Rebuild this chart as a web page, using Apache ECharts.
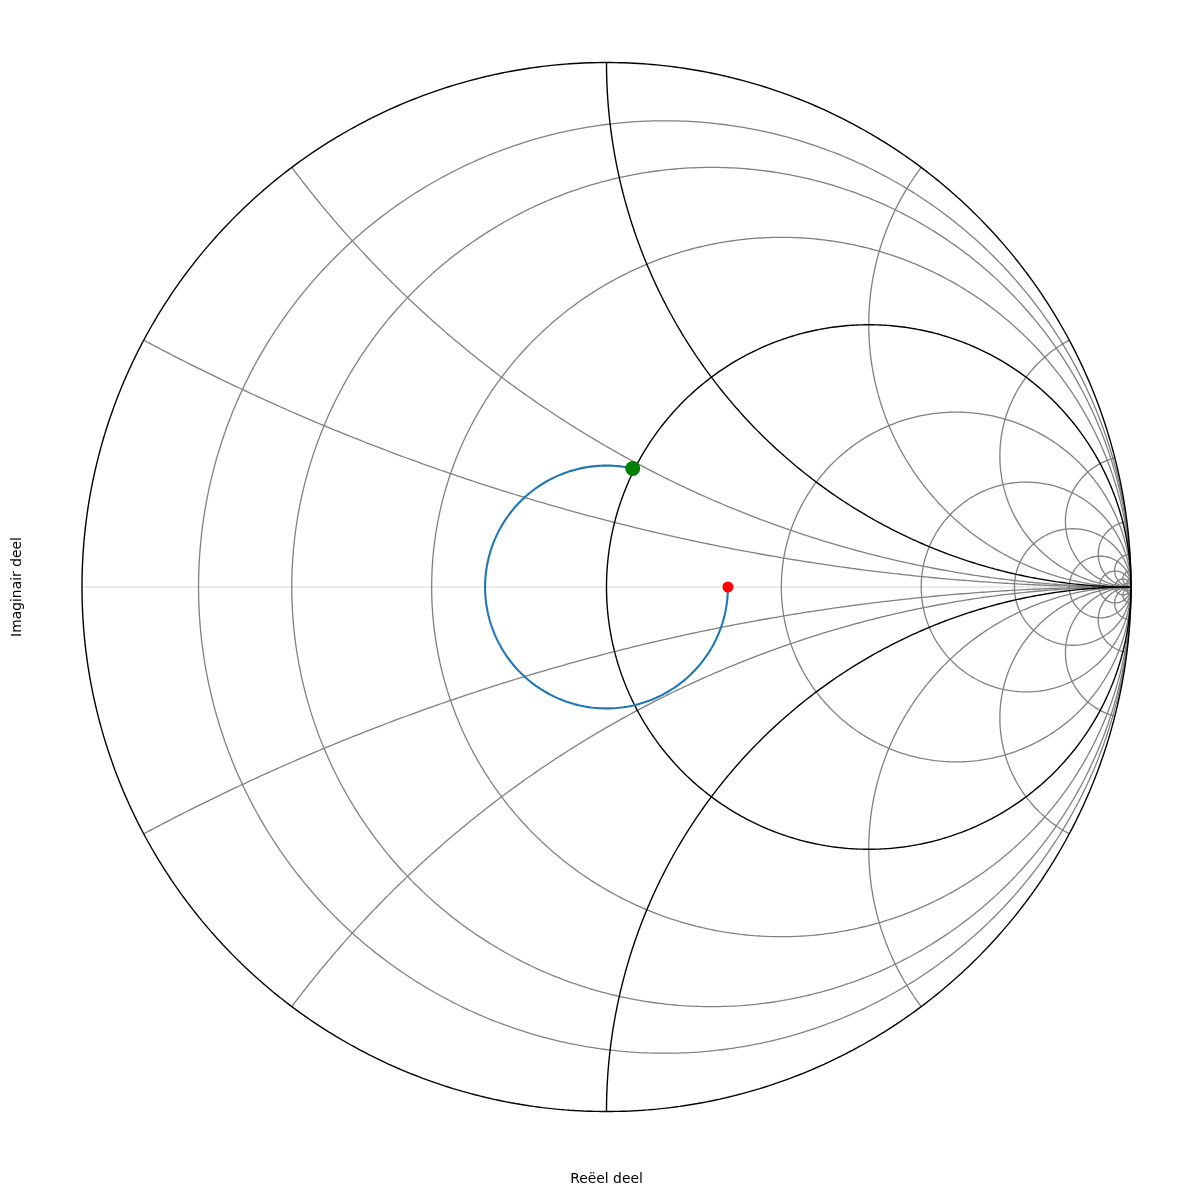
<!DOCTYPE html>
<html>
<head>
<meta charset="utf-8">
<script src="https://cdn.jsdelivr.net/npm/echarts@6/dist/echarts.min.js"></script>
<style>
html,body{margin:0;padding:0;background:#fff;}
#chart{width:1194px;height:1194px;}
</style>
</head>
<body>
<div id="chart"></div>
<script>
// Smith chart grid values (normalized impedance)
const resistanceValues = [0.125, 0.25, 0.5, 2, 4, 8, 16, 32, 64, 128];
const reactanceValues = [0.25, 0.5, 2, 4, 8, 16, 32, 64, 128];
const majorResistance = [0, 1];
const majorReactance = [1];
// Reflection-coefficient points (real, imaginary)
const loadPoint = [0.2315, 0];
const matchPoint = [0.050, 0.226];
// Axis titles
const xAxisTitle = 'Reëel deel';
const yAxisTitle = 'Imaginair deel';

const N = 720;
function resistanceCircle(r) {
  const cx = r / (1 + r), R = 1 / (1 + r);
  const pts = [];
  for (let i = 0; i <= N; i++) {
    const a = 2 * Math.PI * i / N;
    pts.push([cx + R * Math.cos(a), R * Math.sin(a)]);
  }
  return pts;
}
function reactanceArc(x) {
  const cx = 1, cy = 1 / x, R = 1 / Math.abs(x);
  const px = (x * x - 1) / (x * x + 1), py = 2 * x / (x * x + 1);
  const a0 = Math.atan2(0 - cy, 1 - cx);
  let a1 = Math.atan2(py - cy, px - cx);
  if (x > 0) { while (a1 > a0) a1 -= 2 * Math.PI; }
  else { while (a1 < a0) a1 += 2 * Math.PI; }
  const pts = [];
  for (let i = 0; i <= N; i++) {
    const a = a0 + (a1 - a0) * i / N;
    pts.push([cx + R * Math.cos(a), cy + R * Math.sin(a)]);
  }
  return pts;
}
function pathArc(p0, p1) {
  const mag = Math.hypot(p0[0], p0[1]);
  const a0 = Math.atan2(p0[1], p0[0]);
  let a1 = Math.atan2(p1[1], p1[0]);
  while (a1 > a0) a1 -= 2 * Math.PI;
  const mag1 = Math.hypot(p1[0], p1[1]);
  const pts = [];
  for (let i = 0; i <= N; i++) {
    const t = i / N;
    const a = a0 + (a1 - a0) * t;
    const m = mag + (mag1 - mag) * t;
    pts.push([m * Math.cos(a), m * Math.sin(a)]);
  }
  return pts;
}

const series = [];
function addLine(data, color, width, z) {
  series.push({
    type: 'line', data: data, showSymbol: false, symbol: 'none', silent: true,
    clip: false, z: z, animation: false,
    lineStyle: { color: color, width: width }
  });
}
// real axis
addLine([[-1, 0], [1, 0]], '#e3e3e3', 1.5, 1);
resistanceValues.forEach(r => addLine(resistanceCircle(r), '#808080', 1.3, 2));
reactanceValues.forEach(x => { addLine(reactanceArc(x), '#808080', 1.3, 2); addLine(reactanceArc(-x), '#808080', 1.3, 2); });
majorResistance.forEach(r => addLine(resistanceCircle(r), '#000000', 1.4, 3));
majorReactance.forEach(x => { addLine(reactanceArc(x), '#000000', 1.4, 3); addLine(reactanceArc(-x), '#000000', 1.4, 3); });
addLine(pathArc(loadPoint, matchPoint), '#1f77b4', 2.1, 4);
series.push({ type: 'scatter', data: [loadPoint], symbolSize: 11, itemStyle: { color: '#ff0000', opacity: 1 }, z: 5, silent: true, clip: false, animation: false });
series.push({ type: 'scatter', data: [matchPoint], symbolSize: 15, itemStyle: { color: '#008000', opacity: 1 }, z: 5, silent: true, clip: false, animation: false });

const chart = echarts.init(document.getElementById('chart'), null, { renderer: 'canvas' });
chart.setOption({
  animation: false,
  backgroundColor: '#ffffff',
  grid: { left: 82, top: 62.5, width: 1049, height: 1049 },
  xAxis: {
    type: 'value', min: -1, max: 1,
    name: xAxisTitle, nameLocation: 'middle', nameGap: 61,
    nameTextStyle: { fontFamily: 'DejaVu Sans', fontSize: 13.9, color: '#000' },
    axisLine: { show: false }, axisTick: { show: false }, axisLabel: { show: false }, splitLine: { show: false }
  },
  yAxis: {
    type: 'value', min: -1, max: 1,
    name: yAxisTitle, nameLocation: 'middle', nameGap: 58,
    nameTextStyle: { fontFamily: 'DejaVu Sans', fontSize: 13.9, color: '#000' },
    axisLine: { show: false }, axisTick: { show: false }, axisLabel: { show: false }, splitLine: { show: false }
  },
  series: series
});
</script>
</body>
</html>
